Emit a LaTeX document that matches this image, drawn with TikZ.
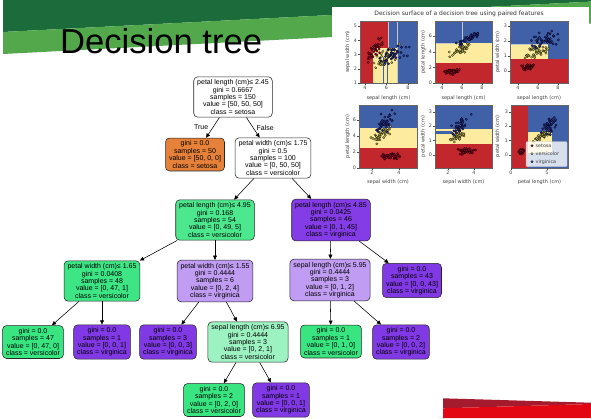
\documentclass[tikz,border=0pt]{standalone}
\usepackage{fontspec}
\setmainfont{Liberation Sans}
\newfontfamily\plotfont{DejaVu Sans}
\usetikzlibrary{arrows.meta}

\definecolor{setosaor}{HTML}{E58139}
\definecolor{versigr}{HTML}{39E581}
\definecolor{virgipu}{HTML}{8139E5}
\definecolor{slidegreen}{HTML}{1B6B3B}
\definecolor{slidelight}{HTML}{52A84A}
\definecolor{slidered}{HTML}{A61A2E}
\definecolor{slidebright}{HTML}{E30613}
\definecolor{surfred}{HTML}{C1272D}
\definecolor{surfyel}{HTML}{FDEBA0}
\definecolor{surfblu}{HTML}{4061A8}
\definecolor{dotred}{HTML}{A50026}
\definecolor{dotyel}{HTML}{C9C256}
\definecolor{dotblu}{HTML}{27319A}

\newcommand\irisdots[7]{%
  \foreach \k in {1,...,#7}{%
    \pgfmathsetmacro\za{rand+rand+rand}%
    \pgfmathsetmacro\zb{rand+rand+rand}%
    \pgfmathsetmacro\dx{#2+#3*\za}%
    \pgfmathsetmacro\dy{#4+#5*(#6*\za+sqrt(1-#6*#6)*\zb)}%
    \filldraw[fill=#1, draw=black, line width=.2pt] (\dx,\dy) circle (1.2pt);
  }}

\begin{document}
\begin{tikzpicture}[x=1pt,y=-1pt,
  box/.style={draw=black!85, line width=.55pt, rounded corners=4pt, align=center,
    inner xsep=3.5pt, inner ysep=2.8pt, font=\fontsize{7}{7.4}\selectfont},
  edge/.style={-{Triangle[length=4.2pt,width=3.8pt]}, line width=.55pt},
  ticklab/.style={font=\plotfont\fontsize{4.8}{5}\selectfont, text=black!75, inner sep=.5pt},
  axlab/.style={font=\plotfont\fontsize{5}{6}\selectfont, text=black!75, inner sep=0pt},
  tickmark/.style={draw=black!70, line width=.3pt},
  frame/.style={draw=black!60, line width=.4pt},
  split/.style={draw=white!55!gray, line width=.6pt}]
  \pgfmathsetseed{42}
  \useasboundingbox (0,0) rectangle (591,418);
  \fill[white] (0,0) rectangle (591,418);

  % slide bands
  \fill[slidegreen] (3,0) -- (591,0) -- (591,1.6) -- (3,32) -- cycle;
  \fill[slidelight] (3,32) -- (591,1.6) -- (591,23.6) -- (3,54) -- cycle;
  \fill[slidered] (443,398.3) -- (591,402.7) -- (591,404) -- (443,408.3) -- cycle;
  \fill[slidebright] (443,408.3) -- (591,404) -- (591,418) -- (443,418) -- cycle;
  \node[anchor=base west, inner sep=0pt, font=\fontsize{34.6}{40}\selectfont] (title) at (60,53) {Decision tree};

  % tree
  \node[box, fill=white] (root) at (233,97) {petal length (cm)≤ 2.45\\gini = 0.6667\\samples = 150\\value = [50, 50, 50]\\class = setosa};
  \node[box, fill=setosaor] (setosa) at (195,154.5) {gini = 0.0\\samples = 50\\value = [50, 0, 0]\\class = setosa};
  \node[box, fill=white] (pw175) at (273,158) {petal width (cm)≤ 1.75\\gini = 0.5\\samples = 100\\value = [0, 50, 50]\\class = versicolor};
  \node[box, fill={rgb,255:red,77;green,232;blue,142}] (pl495) at (215,220) {petal length (cm)≤ 4.95\\gini = 0.168\\samples = 54\\value = [0, 49, 5]\\class = versicolor};
  \node[box, fill={rgb,255:red,132;green,61;blue,230}] (pl485) at (331,220) {petal length (cm)≤ 4.85\\gini = 0.0425\\samples = 46\\value = [0, 1, 45]\\class = virginica};
  \node[box, fill={rgb,255:red,61;green,229;blue,132}] (pw165) at (102,281) {petal width (cm)≤ 1.65\\gini = 0.0408\\samples = 48\\value = [0, 47, 1]\\class = versicolor};
  \node[box, fill={rgb,255:red,192;green,156;blue,242}] (pw155) at (215,281) {petal width (cm)≤ 1.55\\gini = 0.4444\\samples = 6\\value = [0, 2, 4]\\class = virginica};
  \node[box, fill={rgb,255:red,192;green,156;blue,242}] (sl595) at (330,280) {sepal length (cm)≤ 5.95\\gini = 0.4444\\samples = 3\\value = [0, 1, 2]\\class = virginica};
  \node[box, fill=virgipu] (leaf43) at (412,280.5) {gini = 0.0\\samples = 43\\value = [0, 0, 43]\\class = virginica};
  \node[box, fill=versigr] (leaf47) at (33,342) {gini = 0.0\\samples = 47\\value = [0, 47, 0]\\class = versicolor};
  \node[box, fill=virgipu] (leafa) at (102,342) {gini = 0.0\\samples = 1\\value = [0, 0, 1]\\class = virginica};
  \node[box, fill=virgipu] (leafb) at (168,342) {gini = 0.0\\samples = 3\\value = [0, 0, 3]\\class = virginica};
  \node[box, fill={rgb,255:red,156;green,242;blue,192}] (sl695) at (248,342) {sepal length (cm)≤ 6.95\\gini = 0.4444\\samples = 3\\value = [0, 2, 1]\\class = versicolor};
  \node[box, fill=versigr] (leafc) at (331,341.5) {gini = 0.0\\samples = 1\\value = [0, 1, 0]\\class = versicolor};
  \node[box, fill=virgipu] (leafd) at (401,342) {gini = 0.0\\samples = 2\\value = [0, 0, 2]\\class = virginica};
  \node[box, fill=versigr] (leafe) at (214,400) {gini = 0.0\\samples = 2\\value = [0, 2, 0]\\class = versicolor};
  \node[box, fill=virgipu] (leaff) at (281,400) {gini = 0.0\\samples = 1\\value = [0, 0, 1]\\class = virginica};

  \draw[edge] (root) -- node[left=1pt, font=\fontsize{7}{8}\selectfont] (true) {True} (setosa);
  \draw[edge] (root) -- node[right=0pt, font=\fontsize{7}{8}\selectfont] (false) {False} (pw175);
  \draw[edge] (pw175) -- (pl495);
  \draw[edge] (pw175) -- (pl485);
  \draw[edge] (pl495) -- (pw165);
  \draw[edge] (pl495) -- (pw155);
  \draw[edge] (pl485) -- (sl595);
  \draw[edge] (pl485) -- (leaf43);
  \draw[edge] (pw165) -- (leaf47);
  \draw[edge] (pw165) -- (leafa);
  \draw[edge] (pw155) -- (leafb);
  \draw[edge] (pw155) -- (sl695);
  \draw[edge] (sl595) -- (leafc);
  \draw[edge] (sl595) -- (leafd);
  \draw[edge] (sl695) -- (leafe);
  \draw[edge] (sl695) -- (leaff);

  % decision surface panel
  \fill[white] (332,7) rectangle (589,193);
  \node[font=\plotfont\fontsize{6}{7}\selectfont, text=black!80] (plottitle) at (459,14) {Decision surface of a decision tree using paired features};

  \fill[surfred] (360,21) rectangle (388,48);
  \fill[surfred] (360,48) rectangle (373,83);
  \fill[surfyel] (373,48) rectangle (397,83);
  \fill[surfblu] (388,21) rectangle (417,48);
  \fill[surfblu] (397,48) rectangle (417,83);
  \fill[surfblu] (382.5,57) rectangle (384,83);
  \fill[surfblu] (386.5,57) rectangle (388,83);
  \draw[split] (388,21) -- (388,48) (397,21) -- (397,83);

  \fill[surfblu] (435,21) rectangle (492,43.3);
  \fill[surfyel] (435,43.3) rectangle (492,63);
  \fill[surfred] (435,63) rectangle (492,83);
  \draw[split] (462,21) -- (462,43.3) -- (435,43.3);

  \fill[surfblu] (510,21) rectangle (568,59);
  \fill[surfyel] (510,43.5) rectangle (548,59);
  \fill[surfred] (510,59) rectangle (568,83);
  \draw[split] (510,44.5) -- (548,44.5);

  \fill[surfblu] (359,105) rectangle (417,128.3);
  \fill[surfyel] (359,128.3) rectangle (417,148.3);
  \fill[surfred] (359,148.3) rectangle (417,168);

  \fill[surfblu] (435,105) rectangle (492,129);
  \fill[surfyel] (435,129) rectangle (492,143.5);
  \fill[surfblu] (435,131) rectangle (452,133.5);
  \fill[surfred] (435,143.5) rectangle (492,168);

  \fill[surfred] (511,105) rectangle (528.3,168);
  \fill[surfblu] (528.3,105) rectangle (568,168);
  \fill[surfyel] (528.3,131.7) rectangle (552,153.3);

  \begin{scope}
    \clip (360,21) rectangle (417,83);
    \begin{scope}[shift={(322,97.25)}, x=10.75pt, y=14.25pt]
      \irisdots{dotred}{5.0}{.35}{3.43}{.38}{.74}{40}
      \irisdots{dotyel}{5.94}{.52}{2.77}{.31}{.53}{40}
      \irisdots{dotblu}{6.59}{.64}{2.97}{.32}{.46}{40}
    \end{scope}
  \end{scope}
  \begin{scope}
    \clip (435,21) rectangle (492,83);
    \begin{scope}[shift={(402,83)}, x=10pt, y=7.83pt]
      \irisdots{dotred}{5.0}{.35}{1.46}{.17}{.27}{40}
      \irisdots{dotyel}{5.94}{.52}{4.26}{.47}{.75}{40}
      \irisdots{dotblu}{6.59}{.64}{5.55}{.55}{.86}{40}
    \end{scope}
  \end{scope}
  \begin{scope}
    \clip (510,21) rectangle (568,83);
    \begin{scope}[shift={(478,71)}, x=10pt, y=15pt]
      \irisdots{dotred}{5.0}{.35}{.25}{.1}{.28}{40}
      \irisdots{dotyel}{5.94}{.52}{1.33}{.2}{.55}{40}
      \irisdots{dotblu}{6.59}{.64}{2.03}{.27}{.28}{40}
    \end{scope}
  \end{scope}
  \begin{scope}
    \clip (359,105) rectangle (417,168);
    \begin{scope}[shift={(345,167.7)}, x=13.5pt, y=7.95pt]
      \irisdots{dotred}{3.43}{.38}{1.46}{.17}{.18}{40}
      \irisdots{dotyel}{2.77}{.31}{4.26}{.47}{.56}{40}
      \irisdots{dotblu}{2.97}{.32}{5.55}{.55}{.40}{40}
    \end{scope}
  \end{scope}
  \begin{scope}
    \clip (435,105) rectangle (492,168);
    \begin{scope}[shift={(422,155)}, x=13pt, y=14.4pt]
      \irisdots{dotred}{3.43}{.38}{.25}{.1}{.23}{40}
      \irisdots{dotyel}{2.77}{.31}{1.33}{.2}{.66}{40}
      \irisdots{dotblu}{2.97}{.32}{2.03}{.27}{.54}{40}
    \end{scope}
  \end{scope}
  \begin{scope}
    \clip (511,105) rectangle (568,168);
    \begin{scope}[shift={(511,155)}, x=7.2pt, y=14.4pt]
      \irisdots{dotred}{1.46}{.17}{.25}{.1}{.33}{40}
      \irisdots{dotyel}{4.26}{.47}{1.33}{.2}{.79}{40}
      \irisdots{dotblu}{5.55}{.55}{2.03}{.27}{.32}{40}
    \end{scope}
  \end{scope}

  \draw[frame] (360,21) rectangle (417,83);
  \draw[frame] (435,21) rectangle (492,83);
  \draw[frame] (510,21) rectangle (568,83);
  \draw[frame] (359,105) rectangle (417,168);
  \draw[frame] (435,105) rectangle (492,168);
  \draw[frame] (511,105) rectangle (568,168);

  % legend
  \node[draw=black!20, fill=white, fill opacity=.8, rounded corners=1pt, minimum width=41pt, minimum height=25pt] (legend) at (546.5,154.2) {};
  \filldraw[fill=dotred, draw=black, line width=.2pt] (532,145.7) circle (1.2pt);
  \filldraw[fill=dotyel, draw=black, line width=.2pt] (532,153.7) circle (1.2pt);
  \filldraw[fill=dotblu, draw=black, line width=.2pt] (532,161.7) circle (1.2pt);
  \node[ticklab, anchor=west] (lgsetosa) at (535,145.7) {setosa};
  \node[ticklab, anchor=west] (lgversi) at (535,153.7) {versicolor};
  \node[ticklab, anchor=west] (lgvirgi) at (535,161.7) {virginica};

  % ticks
  \foreach \v/\p in {4/365,6/386.5,8/408}{
    \draw[tickmark] (\p,83) -- (\p,85);
    \node[ticklab, anchor=north] (sax\v) at (\p,85.5) {\v};
  }
  \foreach \v/\p in {1/83,2/68.75,3/54.5,4/40.25,5/26}{
    \draw[tickmark] (360,\p) -- (358,\p);
    \node[ticklab, anchor=east] (say\v) at (357.5,\p) {\v};
  }
  \foreach \v/\p in {4/442,6/462,8/482}{
    \draw[tickmark] (\p,83) -- (\p,85);
    \node[ticklab, anchor=north] (sbx\v) at (\p,85.5) {\v};
  }
  \foreach \v/\p in {0/83,2/67.3,4/51.7,6/36}{
    \draw[tickmark] (435,\p) -- (433,\p);
    \node[ticklab, anchor=east] (sby\v) at (432.5,\p) {\v};
  }
  \foreach \v/\p in {4/518,6/538,8/558}{
    \draw[tickmark] (\p,83) -- (\p,85);
    \node[ticklab, anchor=north] (scx\v) at (\p,85.5) {\v};
  }
  \foreach \v/\p in {0/71,1/56,2/41,3/26}{
    \draw[tickmark] (510,\p) -- (508,\p);
    \node[ticklab, anchor=east] (scy\v) at (507.5,\p) {\v};
  }
  \foreach \v/\p in {2/372,4/399}{
    \draw[tickmark] (\p,168) -- (\p,170);
    \node[ticklab, anchor=north] (sdx\v) at (\p,170.5) {\v};
  }
  \foreach \v/\p in {0/167.7,2/151.8,4/135.9,6/120}{
    \draw[tickmark] (359,\p) -- (357,\p);
    \node[ticklab, anchor=east] (sdy\v) at (356.5,\p) {\v};
  }
  \foreach \v/\p in {2/448,4/474}{
    \draw[tickmark] (\p,168) -- (\p,170);
    \node[ticklab, anchor=north] (sex\v) at (\p,170.5) {\v};
  }
  \foreach \v/\p in {0/155,1/140.6,2/126.2,3/111.8}{
    \draw[tickmark] (435,\p) -- (433,\p);
    \node[ticklab, anchor=east] (sey\v) at (432.5,\p) {\v};
  }
  \foreach \v/\p in {0/511,5/547}{
    \draw[tickmark] (\p,168) -- (\p,170);
    \node[ticklab, anchor=north] (sfx\v) at (\p,170.5) {\v};
  }
  \foreach \v/\p in {0/155,1/140.6,2/126.2,3/111.8}{
    \draw[tickmark] (511,\p) -- (509,\p);
    \node[ticklab, anchor=east] (sfy\v) at (508.5,\p) {\v};
  }

  % axis labels
  \node[axlab] (saxl) at (388.5,98) {sepal length (cm)};
  \node[axlab] (sbxl) at (463.5,98) {sepal length (cm)};
  \node[axlab] (scxl) at (539,98) {sepal length (cm)};
  \node[axlab] (sdxl) at (388,182.3) {sepal width (cm)};
  \node[axlab] (sexl) at (463.5,182.3) {sepal width (cm)};
  \node[axlab] (sfxl) at (539.5,182.3) {petal length (cm)};
  \node[axlab, rotate=90] (sayl) at (347.7,52) {sepal width (cm)};
  \node[axlab, rotate=90] (sbyl) at (423.3,52) {petal length (cm)};
  \node[axlab, rotate=90] (scyl) at (497.7,52) {petal width (cm)};
  \node[axlab, rotate=90] (sdyl) at (347.7,136.5) {petal length (cm)};
  \node[axlab, rotate=90] (seyl) at (423.3,136.5) {petal width (cm)};
  \node[axlab, rotate=90] (sfyl) at (497.7,136.5) {petal width (cm)};
\end{tikzpicture}
\end{document}
